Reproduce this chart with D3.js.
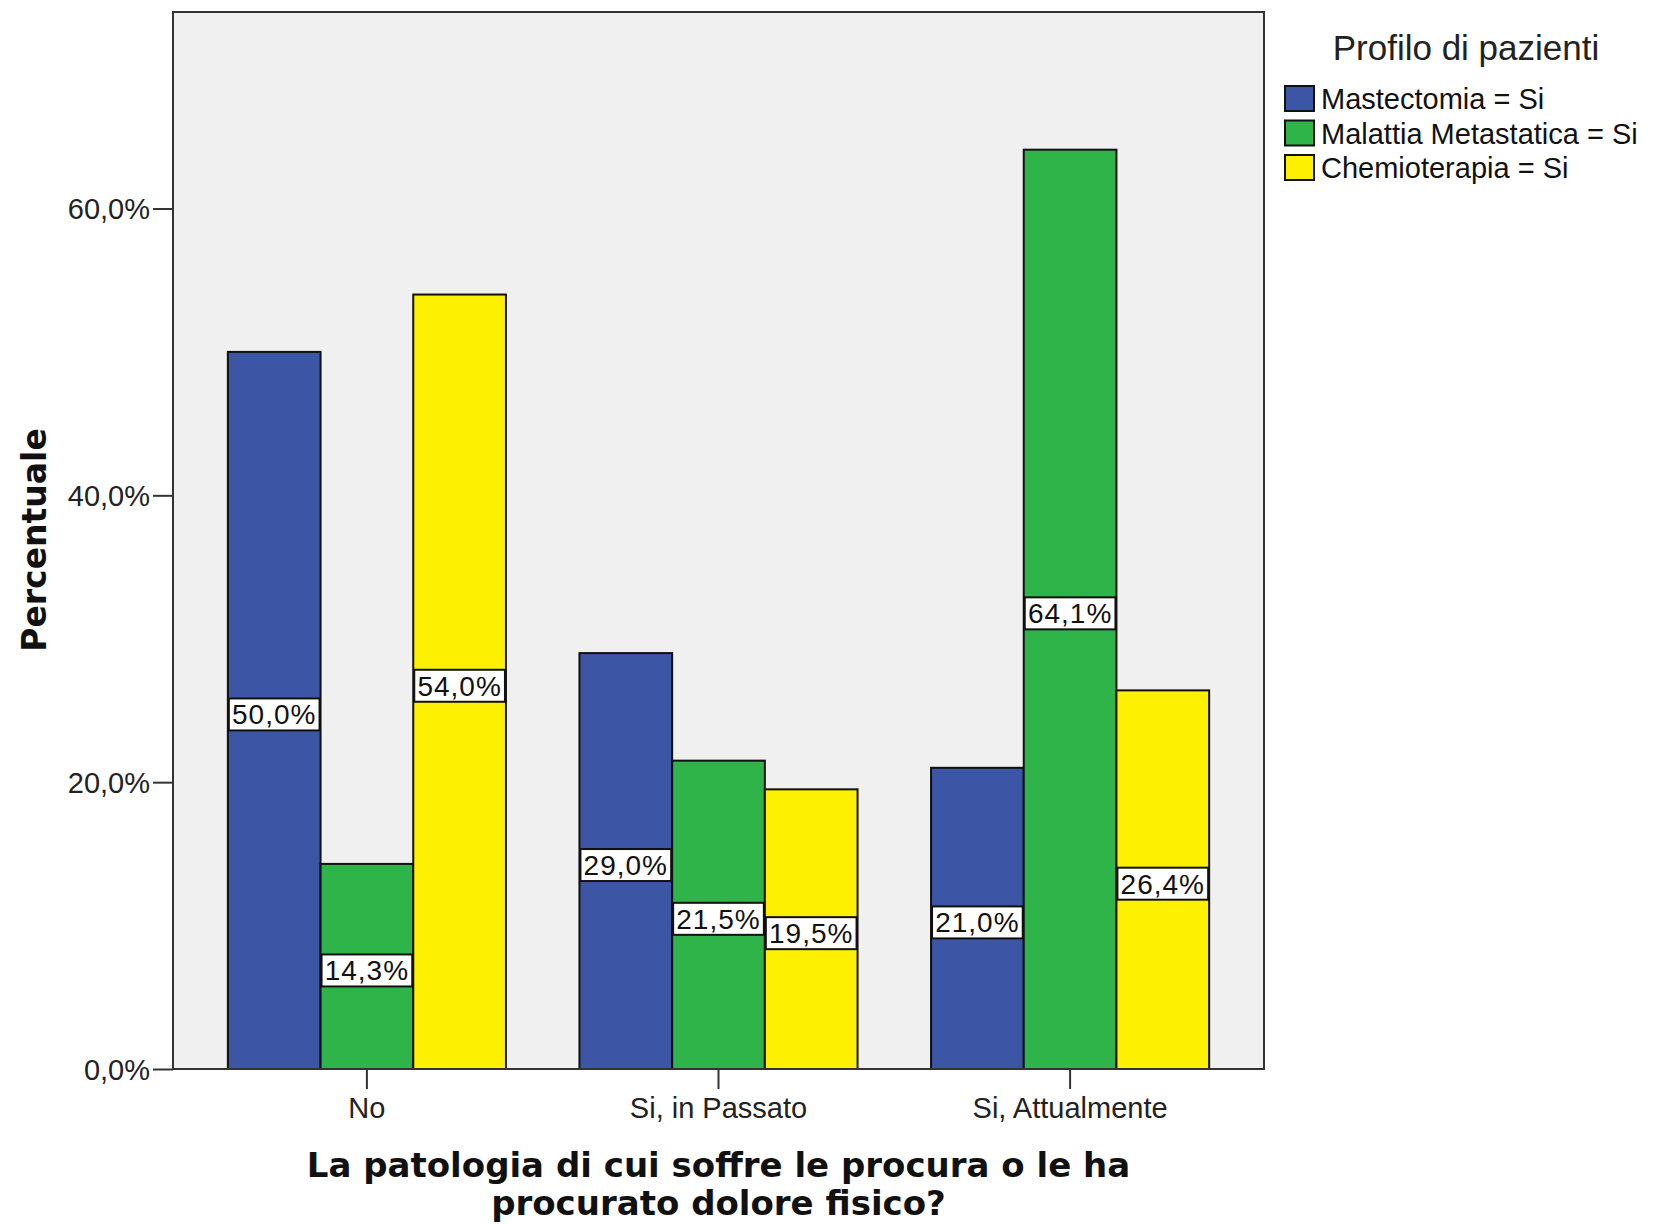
<!DOCTYPE html>
<meta charset="utf-8">
<style>
    body { margin: 0; background: #fff; }
    svg text { font-family: "Liberation Sans", Arial, sans-serif; }
</style>
<svg width="1666" height="1224"></svg>
<script src="https://d3js.org/d3.v7.min.js"></script>
<script>
    // data
    const categories = ["No", "Si, in Passato", "Si, Attualmente"];
    const seriesNames = ["Mastectomia = Si", "Malattia Metastatica = Si", "Chemioterapia = Si"];
    const mastectomia = [50.0, 29.0, 21.0];
    const metastatica = [14.3, 21.5, 64.1];
    const chemioterapia = [54.0, 19.5, 26.4];
    const yTicks = [0, 20, 40, 60];
    const colors = ["#3c55a5", "#2fb449", "#fdf000"];

    const series = [mastectomia, metastatica, chemioterapia];

    const svg = d3.select("svg");
    const pL = 173, pR = 1264, pT = 12, pB = 1069;

    const x = d3.scaleBand().domain(categories).range([pL, pR])
        .paddingInner(0.209).paddingOuter(0.156);
    const x1 = d3.scaleBand().domain(d3.range(series.length)).range([0, x.bandwidth()]);
    const y = d3.scaleLinear().domain([0, 73.7]).range([pB, pT]);

    const fmt = d => d.toFixed(1).replace(".", ",") + "%";

    // plot background
    svg.append("rect")
        .attr("x", pL).attr("y", pT)
        .attr("width", pR - pL).attr("height", pB - pT)
        .attr("fill", "#f0f0f0");

    // bars
    const groups = svg.selectAll("g.cat").data(categories).enter().append("g")
        .attr("class", "cat")
        .attr("transform", d => "translate(" + x(d) + ",0)");

    groups.each(function (cat, ci) {
        const g = d3.select(this);
        series.forEach(function (vals, si) {
            const v = vals[ci];
            g.append("rect")
                .attr("x", x1(si)).attr("y", y(v))
                .attr("width", x1.bandwidth()).attr("height", y(0) - y(v))
                .attr("fill", colors[si])
                .attr("stroke", "#111").attr("stroke-width", 2);
        });
    });

    // value labels
    groups.each(function (cat, ci) {
        const g = d3.select(this);
        series.forEach(function (vals, si) {
            const v = vals[ci];
            const cy = y(v / 2) + 4;
            g.append("rect")
                .attr("x", x1(si) + 1).attr("y", cy - 16)
                .attr("width", x1.bandwidth() - 2).attr("height", 32)
                .attr("fill", "#fff")
                .attr("stroke", "#111").attr("stroke-width", 2);
            g.append("text")
                .attr("x", x1(si) + x1.bandwidth() / 2).attr("y", cy + 10)
                .attr("text-anchor", "middle")
                .attr("font-size", 28)
                .attr("letter-spacing", 1)
                .attr("fill", "#111")
                .text(fmt(v));
        });
    });

    // plot frame
    svg.append("rect")
        .attr("x", pL).attr("y", pT)
        .attr("width", pR - pL).attr("height", pB - pT)
        .attr("fill", "none")
        .attr("stroke", "#333").attr("stroke-width", 2);

    // y axis
    const yAxis = svg.append("g")
        .attr("transform", "translate(" + pL + ",0)")
        .call(d3.axisLeft(y).tickValues(yTicks).tickFormat(fmt).tickSize(20).tickPadding(3));
    yAxis.select(".domain").remove();
    yAxis.selectAll("line").attr("stroke", "#333").attr("stroke-width", 2);
    yAxis.selectAll("text")
        .attr("font-family", "Liberation Sans")
        .attr("font-size", 29).attr("fill", "#222")
        .attr("dy", "0.35em");

    // x axis
    const xAxis = svg.append("g")
        .attr("transform", "translate(0," + pB + ")")
        .call(d3.axisBottom(x).tickSize(20).tickPadding(8));
    xAxis.select(".domain").remove();
    xAxis.selectAll("line").attr("stroke", "#333").attr("stroke-width", 2);
    xAxis.selectAll("text")
        .attr("font-family", "Liberation Sans")
        .attr("font-size", 29).attr("fill", "#222");

    // axis titles
    const xt = svg.append("text")
        .attr("x", (pL + pR) / 2)
        .attr("text-anchor", "middle")
        .attr("font-size", 34)
        .attr("font-weight", "bold")
        .style("font-family", "'DejaVu Sans', Verdana, sans-serif")
        .attr("fill", "#111");
    xt.append("tspan").attr("x", (pL + pR) / 2).attr("y", 1177)
        .text("La patologia di cui soffre le procura o le ha");
    xt.append("tspan").attr("x", (pL + pR) / 2).attr("y", 1215)
        .text("procurato dolore fisico?");

    svg.append("text")
        .attr("transform", "translate(46,540) rotate(-90)")
        .attr("text-anchor", "middle")
        .attr("font-size", 33)
        .attr("font-weight", "bold")
        .style("font-family", "'DejaVu Sans', Verdana, sans-serif")
        .attr("fill", "#111")
        .text("Percentuale");

    // legend
    const legend = svg.append("g");
    legend.append("text")
        .attr("x", 1466).attr("y", 60)
        .attr("text-anchor", "middle")
        .attr("font-size", 35)
        .attr("fill", "#222")
        .text("Profilo di pazienti");

    const items = legend.selectAll("g.item").data(seriesNames).enter().append("g")
        .attr("class", "item")
        .attr("transform", (d, i) => "translate(1285," + (86 + i * 34.5) + ")");
    items.append("rect")
        .attr("width", 29).attr("height", 25)
        .attr("fill", (d, i) => colors[i])
        .attr("stroke", "#111").attr("stroke-width", 2);
    items.append("text")
        .attr("x", 36).attr("y", 23)
        .attr("font-size", 29)
        .attr("fill", "#111")
        .text(d => d);
</script>
